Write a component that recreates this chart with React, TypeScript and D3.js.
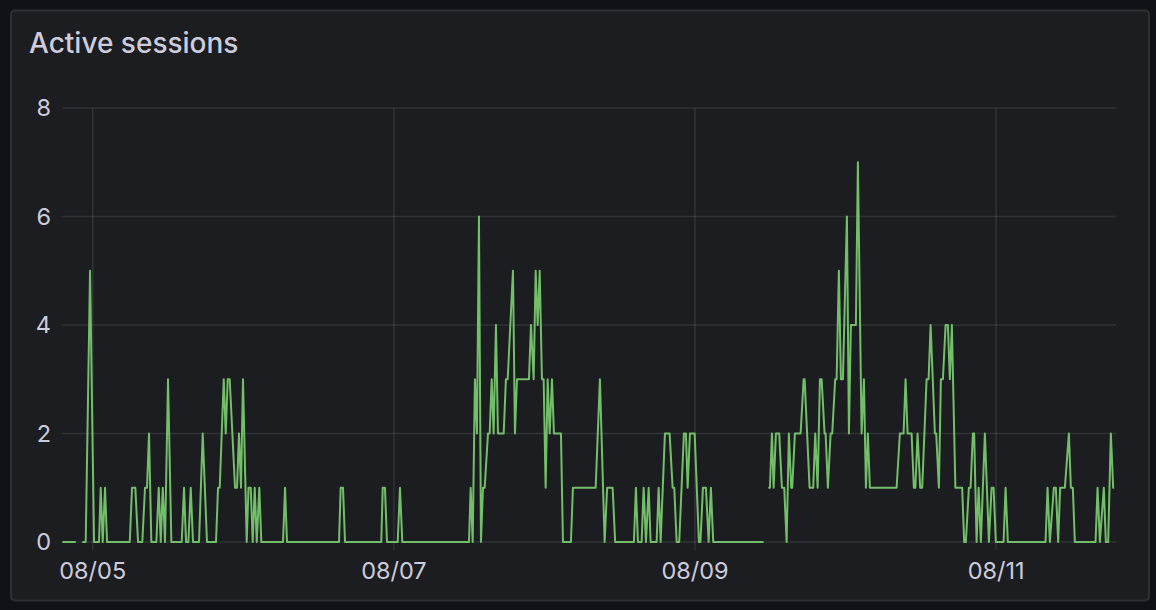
import * as d3 from "d3";

// hours since 08/05 00:00 (UTC), active session count; null = gap in the series
const activeSessions: [number, number | null][] = [
  [-4.84, 0], [-2.71, 0], [-2.2, null], [-1.66, 0], [-1.12, 0], [-0.43, 5], [0.21, 0],
  [1.0, 0], [1.27, 1], [1.59, 0], [1.96, 1], [2.28, 0], [5.9, 0], [6.26, 1], [6.79, 1],
  [7.22, 0], [7.9, 0], [8.33, 1], [8.65, 1], [8.97, 2], [9.34, 0], [10.14, 0], [10.52, 1],
  [10.84, 0], [11.16, 1], [11.52, 0], [12.0, 3], [12.53, 0], [14.18, 0], [14.55, 1],
  [14.87, 0], [15.24, 0], [15.62, 1], [15.98, 0], [16.94, 0], [17.53, 2], [18.21, 0],
  [19.65, 0], [19.97, 1], [20.24, 1], [20.88, 3], [21.2, 2], [21.51, 3], [21.83, 3],
  [22.68, 1], [23.0, 1], [23.31, 2], [23.63, 1], [23.95, 3], [24.54, 0], [24.83, 1],
  [25.18, 1], [25.5, 0], [25.82, 1], [26.14, 0], [26.55, 1], [26.87, 0], [30.33, 0],
  [30.65, 1], [30.96, 0], [39.25, 0], [39.52, 1], [39.89, 1], [40.21, 0], [45.99, 0],
  [46.22, 1], [46.58, 1], [46.9, 0], [48.61, 0], [48.97, 1], [49.34, 0], [59.97, 0],
  [60.24, 1], [60.56, 0], [60.92, 3], [61.24, 2], [61.56, 6], [61.88, 0], [62.2, 1],
  [62.47, 1], [63.0, 2], [63.27, 2], [63.59, 3], [63.9, 2], [64.27, 4], [64.59, 2],
  [65.5, 2], [65.86, 3], [66.14, 3], [66.98, 5], [67.3, 2], [67.62, 3], [69.53, 3],
  [69.85, 4], [70.28, 3], [70.6, 5], [70.92, 4], [71.24, 5], [71.6, 3], [71.87, 3],
  [72.19, 1], [72.51, 3], [72.83, 2], [73.2, 3], [73.51, 2], [74.63, 2], [74.95, 0],
  [76.22, 0], [76.54, 1], [80.16, 1], [80.84, 3], [81.59, 0], [81.99, 1], [82.87, 1],
  [83.27, 0], [86.26, 0], [86.58, 1], [86.9, 0], [87.49, 0], [87.81, 1], [88.18, 0],
  [88.61, 1], [88.92, 0], [89.88, 0], [90.2, 1], [90.52, 0], [91.2, 2], [91.95, 2],
  [92.43, 1], [92.69, 1], [93.07, 0], [93.48, 0], [94.23, 2], [94.55, 2], [94.82, 1],
  [95.19, 2], [95.94, 2], [96.62, 0], [96.86, 0], [97.26, 1], [97.74, 1], [98.17, 0],
  [98.53, 1], [98.9, 0], [106.93, 0], [107.3, null], [107.67, 1], [107.94, 1], [108.26, 2],
  [108.53, 1], [108.89, 2], [109.42, 2], [109.85, 1], [110.22, 1], [110.6, 0], [110.96, 2],
  [111.33, 1], [111.49, 1], [111.92, 2], [112.83, 2], [113.31, 3], [113.47, 3], [114.26, 1],
  [114.84, 1], [115.16, 2], [115.54, 1], [115.91, 3], [116.18, 3], [116.65, 2], [116.81, 2],
  [117.18, 1], [117.61, 2], [117.87, 2], [118.34, 3], [118.57, 3], [118.93, 5], [119.25, 3],
  [119.57, 3], [120.21, 6], [120.53, 2], [120.84, 4], [121.64, 4], [121.96, 7], [122.55, 2],
  [122.92, 3], [123.24, 1], [123.55, 2], [123.87, 1], [128.13, 1], [128.65, 2], [129.24, 2],
  [129.56, 3], [129.88, 2], [130.52, 2], [130.88, 1], [131.12, 1], [131.47, 2], [131.89, 1],
  [132.21, 1], [132.91, 3], [133.23, 3], [133.55, 4], [134.23, 2], [134.44, 2], [134.87, 1],
  [135.19, 3], [135.51, 3], [135.94, 4], [136.3, 4], [136.62, 3], [136.94, 4], [137.5, 1],
  [138.58, 1], [138.9, 0], [139.17, 0], [139.65, 1], [139.92, 1], [140.29, 2], [140.49, 2],
  [140.88, 0], [141.2, 1], [141.56, 0], [142.2, 2], [142.84, 0], [143.27, 1], [143.59, 1],
  [143.95, 0], [145.18, 0], [145.5, 1], [145.86, 0], [151.87, 0], [152.19, 1], [152.56, 0],
  [153.19, 1], [153.51, 1], [153.88, 0], [154.2, 1], [154.95, 1], [155.59, 2], [155.91, 1],
  [156.22, 1], [156.54, 0], [159.84, 0], [160.16, 1], [160.53, 0], [161.16, 1], [161.48, 0],
  [161.85, 0], [162.28, 2], [162.65, 1], [162.81, 1],
];

const yTicks = [0, 2, 4, 6, 8];
const xTickDays = [5, 7, 9, 11];
const title = "Active sessions";

const W = 1156;
const H = 610;
const base = Date.UTC(2024, 7, 5);
const toDate = (h: number) => new Date(base + h * 3600e3);

const App = () => {
  const x = d3.scaleUtc().domain([toDate(-4.9), toDate(163.1)]).range([62, 1116]);
  const y = d3.scaleLinear().domain([0, 8]).range([542, 108]);
  const fmt = d3.utcFormat("%m/%d");

  const line = d3
    .line<[number, number | null]>()
    .defined((d) => d[1] != null)
    .x((d) => x(toDate(d[0])))
    .y((d) => y(d[1] as number));

  const textColor = "#ccccdc";
  const gridColor = "rgba(204,204,220,0.12)";

  return (
    <div style={{ position: "absolute", left: 0, top: 0 }}>
      <svg width={W} height={H} style={{ display: "block", fontFamily: "Inter, sans-serif" }}>
        <rect width={W} height={H} fill="#111217" />
        <rect x={11} y={10.5} width={1138} height={590} rx={4} fill="#1c1d21" stroke="#2e2f35" strokeWidth={2} />
        <text x={29} y={53} fill={textColor} fontSize={28} fontWeight={500}>
          {title}
        </text>
        <g>
          {yTicks.map((t) => (
            <g key={`y-${t}`}>
              <line x1={62} x2={1116} y1={y(t)} y2={y(t)} stroke={gridColor} strokeWidth={1.5} />
              <text x={51} y={y(t)} dy="0.35em" textAnchor="end" fill={textColor} fontSize={23.5}>
                {t}
              </text>
            </g>
          ))}
          {xTickDays.map((d) => {
            const dt = new Date(Date.UTC(2024, 7, d));
            const px = x(dt);
            return (
              <g key={`x-${d}`}>
                <line x1={px} x2={px} y1={108} y2={550} stroke={gridColor} strokeWidth={1.5} />
                <text x={px} y={579} textAnchor="middle" fill={textColor} fontSize={23.5}>
                  {fmt(dt)}
                </text>
              </g>
            );
          })}
        </g>
        <path d={line(activeSessions) || ""} fill="none" stroke="#73BF69" strokeWidth={2} strokeLinejoin="round" />
      </svg>
    </div>
  );
};

export default App;
